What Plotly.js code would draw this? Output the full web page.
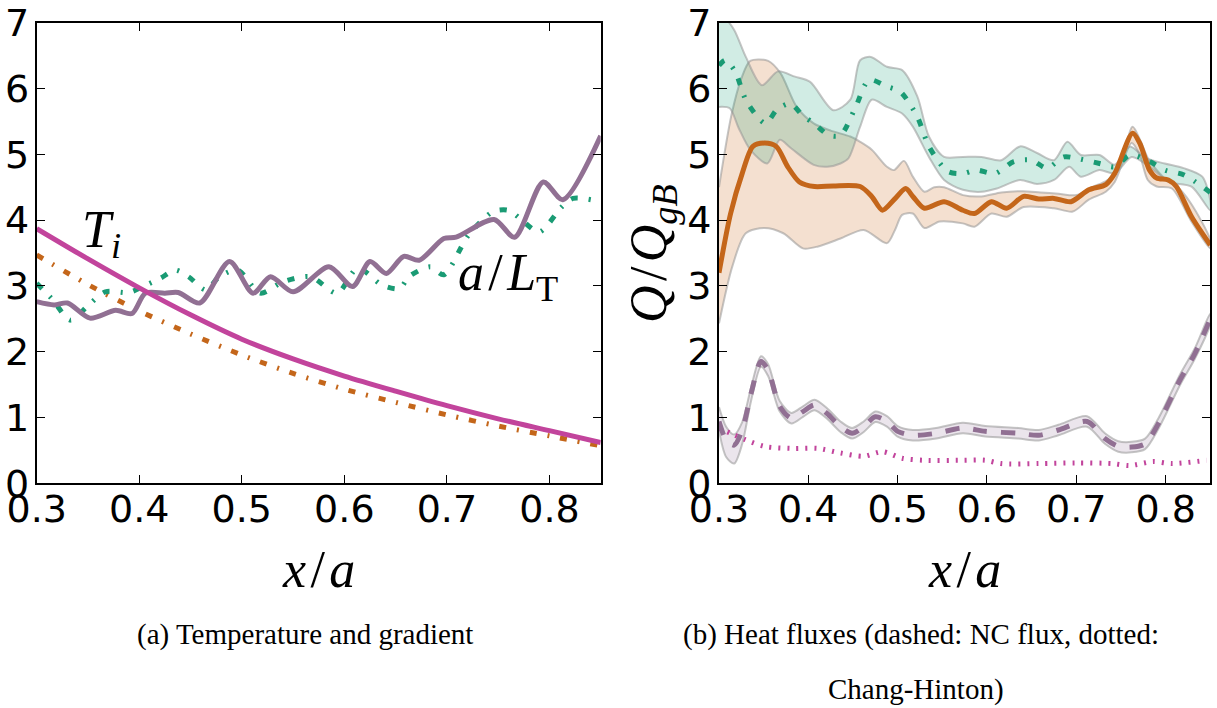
<!DOCTYPE html>
<html><head><meta charset="utf-8">
<script src="https://cdn.plot.ly/plotly-3.0.1.min.js"></script>
<style>html,body{margin:0;padding:0;background:#fff}#chart{width:1217px;height:708px}</style>
</head><body><div id="chart"></div>
<script>
// ---------- panel (a): temperature and gradient ----------
const ti_x = [0.30,0.35,0.40,0.45,0.50,0.55,0.60,0.65,0.70,0.75,0.80,0.85];
const ti_y = [3.87,3.41,2.97,2.56,2.19,1.89,1.63,1.40,1.18,0.98,0.80,0.62];
const te_x = [0.30,0.35,0.40,0.45,0.50,0.55,0.60,0.65,0.70,0.75,0.80,0.85];
const te_y = [3.47,3.02,2.62,2.27,1.95,1.67,1.43,1.23,1.04,0.87,0.72,0.57];
const lt_x = [0.300,0.317,0.330,0.352,0.377,0.393,0.406,0.425,0.438,0.459,0.488,0.511,0.528,0.550,0.585,0.608,0.625,0.641,0.658,0.673,0.697,0.709,0.746,0.766,0.794,0.813,0.850];
const lt_y = [2.76,2.71,2.74,2.51,2.63,2.58,2.89,2.89,2.90,2.74,3.37,2.89,3.14,2.91,3.29,2.99,3.37,3.19,3.45,3.39,3.72,3.74,4.01,3.74,4.58,4.31,5.28];
const lt2_x = [0.300,0.315,0.333,0.350,0.367,0.390,0.405,0.421,0.435,0.448,0.465,0.478,0.496,0.518,0.540,0.567,0.593,0.613,0.637,0.654,0.663,0.684,0.697,0.721,0.745,0.760,0.771,0.790,0.812,0.823,0.850];
const lt2_y = [3.04,2.80,2.48,2.70,2.91,2.90,3.00,3.12,3.24,3.14,2.94,3.14,3.24,2.89,3.06,3.14,2.89,3.27,3.01,2.96,3.14,3.29,3.17,3.77,4.13,4.15,4.03,3.82,4.20,4.33,4.28];

// ---------- panel (b): heat fluxes ----------
const qi_x = [0.300,0.313,0.326,0.338,0.351,0.364,0.377,0.390,0.407,0.428,0.458,0.471,0.483,0.496,0.509,0.517,0.530,0.552,0.573,0.586,0.605,0.622,0.641,0.658,0.675,0.694,0.714,0.733,0.743,0.763,0.771,0.782,0.790,0.803,0.812,0.829,0.850];
const qi_y = [3.20,4.10,4.71,5.12,5.17,5.12,4.81,4.58,4.51,4.52,4.51,4.36,4.15,4.31,4.48,4.36,4.18,4.28,4.15,4.10,4.28,4.18,4.36,4.32,4.33,4.28,4.46,4.54,4.71,5.32,5.17,4.76,4.64,4.61,4.51,4.05,3.62];
const qi_hi_x = [0.300,0.314,0.325,0.335,0.355,0.369,0.387,0.406,0.425,0.447,0.458,0.471,0.488,0.496,0.507,0.517,0.530,0.541,0.552,0.573,0.594,0.616,0.640,0.660,0.680,0.700,0.718,0.735,0.748,0.763,0.772,0.781,0.800,0.812,0.828,0.850];
const qi_hi_y = [4.50,5.60,6.15,6.42,6.42,6.23,5.72,5.47,5.36,5.27,5.19,5.07,4.81,4.76,4.90,4.66,4.43,4.50,4.50,4.38,4.36,4.42,4.44,4.42,4.40,4.38,4.50,4.61,4.78,5.42,5.20,4.92,4.62,4.52,4.26,3.70];
const qi_lo_x = [0.300,0.315,0.330,0.351,0.372,0.394,0.411,0.436,0.462,0.488,0.497,0.505,0.517,0.530,0.547,0.573,0.586,0.605,0.622,0.641,0.675,0.696,0.714,0.733,0.743,0.762,0.771,0.780,0.790,0.807,0.828,0.850];
const qi_lo_y = [2.43,3.30,3.80,3.88,3.80,3.57,3.60,3.72,3.85,3.65,3.85,4.08,4.10,3.88,3.98,3.95,3.90,4.10,4.05,4.20,4.18,4.13,4.31,4.43,4.58,5.17,4.99,4.61,4.51,4.48,4.00,3.57];

const gr_x = [0.300,0.307,0.318,0.331,0.352,0.365,0.380,0.393,0.408,0.423,0.436,0.453,0.468,0.488,0.503,0.522,0.535,0.556,0.573,0.588,0.609,0.630,0.650,0.667,0.686,0.700,0.726,0.743,0.760,0.782,0.799,0.820,0.850];
const gr_y = [6.35,6.43,6.26,5.80,5.47,5.68,5.77,5.60,5.45,5.29,5.29,5.72,6.13,6.03,5.95,5.57,5.12,4.74,4.71,4.76,4.71,4.89,4.91,4.79,4.96,4.94,4.86,4.81,4.99,4.89,4.76,4.69,4.42];
const gr_hi_x = [0.300,0.317,0.330,0.348,0.366,0.385,0.402,0.428,0.447,0.458,0.470,0.488,0.505,0.522,0.535,0.552,0.573,0.594,0.616,0.637,0.656,0.675,0.690,0.705,0.726,0.743,0.760,0.778,0.799,0.820,0.841,0.850];
const gr_hi_y = [7.20,6.89,6.48,6.05,6.26,6.18,6.10,5.67,5.83,6.43,6.48,6.33,6.28,5.88,5.27,4.96,4.96,4.96,4.91,5.12,5.02,4.91,5.19,4.99,4.99,4.84,5.12,4.94,4.86,4.79,4.66,4.30];
const gr_lo_x = [0.300,0.312,0.322,0.335,0.354,0.368,0.380,0.406,0.421,0.436,0.445,0.458,0.471,0.488,0.505,0.517,0.535,0.552,0.573,0.594,0.611,0.637,0.656,0.675,0.692,0.705,0.726,0.743,0.762,0.782,0.803,0.829,0.850];
const gr_lo_y = [5.72,5.70,5.40,5.07,4.86,5.22,5.10,4.84,4.81,4.86,4.94,5.42,5.83,5.72,5.62,5.42,4.96,4.61,4.46,4.43,4.48,4.61,4.55,4.61,4.81,4.66,4.76,4.71,4.96,4.81,4.58,4.51,4.15];

const nc_x  = [0.300,0.308,0.317,0.326,0.336,0.347,0.355,0.368,0.381,0.394,0.407,0.421,0.436,0.449,0.462,0.475,0.488,0.500,0.517,0.543,0.573,0.598,0.635,0.658,0.680,0.712,0.732,0.747,0.762,0.777,0.792,0.816,0.833,0.850];
const nc_y  = [0.94,0.66,0.58,0.81,1.37,1.85,1.72,1.17,0.99,1.09,1.19,1.06,0.86,0.76,0.86,1.01,0.94,0.79,0.73,0.76,0.84,0.79,0.76,0.73,0.81,0.94,0.68,0.56,0.55,0.60,0.91,1.57,1.98,2.50];
const nc_hi = [1.16,0.86,0.74,0.93,1.46,1.93,1.81,1.25,1.07,1.17,1.27,1.14,0.94,0.84,0.94,1.09,1.02,0.87,0.81,0.84,0.92,0.87,0.84,0.81,0.89,1.02,0.76,0.64,0.63,0.68,0.99,1.65,2.06,2.58];
const nc_lo = [0.80,0.40,0.30,0.60,1.26,1.77,1.63,1.09,0.91,1.01,1.11,0.98,0.78,0.68,0.78,0.93,0.86,0.71,0.65,0.68,0.76,0.71,0.68,0.65,0.73,0.86,0.60,0.48,0.47,0.52,0.83,1.49,1.90,2.42];

const ch_x = [0.300,0.313,0.330,0.351,0.381,0.411,0.436,0.462,0.483,0.505,0.530,0.573,0.598,0.616,0.658,0.700,0.740,0.760,0.786,0.807,0.846];
const ch_y = [0.84,0.76,0.66,0.56,0.53,0.53,0.46,0.41,0.48,0.38,0.35,0.35,0.35,0.30,0.30,0.31,0.30,0.27,0.33,0.30,0.35];

const tickVals = [0.3,0.4,0.5,0.6,0.7,0.8];
const tickText = ['0.3','0.4','0.5','0.6','0.7','0.8'];
const yTickVals = [0,1,2,3,4,5,6,7];

// ---------- styling ----------
const C_MAG = '#c2449c', C_MAUVE = '#917093', C_GREEN = '#1a9b74', C_ORANGE = '#c4661a';
const DASHDOT = '7px,11px,2px,11px';
const W = 1217, H = 708;
const fx = p => p / W, fy = p => 1 - p / H;
const HS = '\u200a';

function band(xs, hi, lo, fill, xa, ya) {
  return {x: xs.hi.concat(xs.lo.slice().reverse()), y: hi.concat(lo.slice().reverse()),
    type: 'scatter', mode: 'lines', fill: 'toself', fillcolor: fill,
    line: {color: 'rgba(150,150,150,0.55)', width: 2, shape: 'spline', smoothing: 0.8},
    xaxis: xa, yaxis: ya, hoverinfo: 'skip', showlegend: false};
}
function line(x, y, color, width, dash, xa, ya) {
  return {x, y, type: 'scatter', mode: 'lines',
    line: {color, width, dash, shape: 'spline', smoothing: 0.8},
    xaxis: xa, yaxis: ya, showlegend: false};
}

const traces = [
  line(te_x, te_y, C_ORANGE, 5, DASHDOT, 'x', 'y'),
  line(lt2_x, lt2_y, C_GREEN, 5, DASHDOT, 'x', 'y'),
  line(lt_x, lt_y, C_MAUVE, 5, 'solid', 'x', 'y'),
  line(ti_x, ti_y, C_MAG, 5, 'solid', 'x', 'y'),

  band({hi: qi_hi_x, lo: qi_lo_x}, qi_hi_y, qi_lo_y, 'rgba(200,102,20,0.2)', 'x2', 'y2'),
  band({hi: gr_hi_x, lo: gr_lo_x}, gr_hi_y, gr_lo_y, 'rgba(27,158,119,0.2)', 'x2', 'y2'),
  band({hi: nc_x, lo: nc_x}, nc_hi, nc_lo, 'rgba(145,112,147,0.18)', 'x2', 'y2'),
  line(ch_x, ch_y, C_MAG, 5, '2px,7px', 'x2', 'y2'),
  line(nc_x, nc_y, C_MAUVE, 5, '14px,14px', 'x2', 'y2'),
  line(gr_x, gr_y, C_GREEN, 5, DASHDOT, 'x2', 'y2'),
  line(qi_x, qi_y, C_ORANGE, 5, 'solid', 'x2', 'y2'),
];

const tickFont = {family: 'DejaVu Sans', size: 38, color: '#000'};
function xAxis(domain, anchor) {
  return {domain, anchor, range: [0.3, 0.85], tickvals: tickVals, ticktext: tickText,
    ticks: 'inside', ticklen: 8, tickwidth: 1, tickcolor: '#000', showline: true, linewidth: 2,
    linecolor: '#000', mirror: 'ticks', showgrid: false, zeroline: false, tickfont: tickFont,
    ticklabelstandoff: -9, fixedrange: true};
}
function yAxis(domain, anchor) {
  return {domain, anchor, range: [0, 7], tickvals: yTickVals,
    ticks: 'inside', ticklen: 8, tickwidth: 1, tickcolor: '#000', showline: true, linewidth: 2,
    linecolor: '#000', mirror: 'ticks', showgrid: false, zeroline: false, tickfont: tickFont,
    ticklabelstandoff: -2, fixedrange: true};
}
const yDom = [fy(483.3), fy(22.7)];
const mathFont = {family: 'Liberation Serif', size: 52, color: '#000'};
const capFont = {family: 'Liberation Serif', size: 29, color: '#000'};

const layout = {
  width: W, height: H, margin: {l: 0, r: 0, t: 0, b: 0},
  paper_bgcolor: '#fff', plot_bgcolor: '#fff', showlegend: false,
  xaxis: xAxis([fx(36.7), fx(600.7)], 'y'),
  yaxis: yAxis(yDom, 'x'),
  xaxis2: xAxis([fx(719), fx(1210.3)], 'y2'),
  yaxis2: yAxis(yDom, 'x2'),
  annotations: [
    {text: '<i>T</i><sub><i>i</i></sub>', xref: 'x', yref: 'y', x: 0.342, y: 3.80, xanchor: 'left', yanchor: 'middle', showarrow: false, font: mathFont},
    {text: '<i>a</i>' + HS + '/' + HS + '<i>L</i><sub>T</sub>', xref: 'x', yref: 'y', x: 0.760, y: 3.15, xanchor: 'center', yanchor: 'middle', showarrow: false, font: mathFont},
    {text: '<i>x</i>' + HS + '/' + HS + '<i>a</i>', xref: 'paper', yref: 'paper', x: fx(318.7), y: fy(569), xanchor: 'center', yanchor: 'middle', showarrow: false, font: mathFont},
    {text: '<i>x</i>' + HS + '/' + HS + '<i>a</i>', xref: 'paper', yref: 'paper', x: fx(964.6), y: fy(569), xanchor: 'center', yanchor: 'middle', showarrow: false, font: mathFont},
    {text: '<i>Q</i>' + HS + '/' + HS + '<i>Q</i><sub><i>gB</i></sub>', xref: 'paper', yref: 'paper', x: fx(652), y: fy(254), xanchor: 'center', yanchor: 'middle', textangle: -90, showarrow: false, font: mathFont},
    {text: '(a) Temperature and gradient', xref: 'paper', yref: 'paper', x: fx(305), y: fy(634), xanchor: 'center', yanchor: 'middle', showarrow: false, font: capFont},
    {text: '(b) Heat fluxes (dashed: NC flux, dotted:', xref: 'paper', yref: 'paper', x: fx(921), y: fy(634), xanchor: 'center', yanchor: 'middle', showarrow: false, font: capFont},
    {text: 'Chang-Hinton)', xref: 'paper', yref: 'paper', x: fx(916), y: fy(689), xanchor: 'center', yanchor: 'middle', showarrow: false, font: capFont},
  ],
};

Plotly.newPlot('chart', traces, layout, {staticPlot: true, displayModeBar: false});
</script>
</body></html>
